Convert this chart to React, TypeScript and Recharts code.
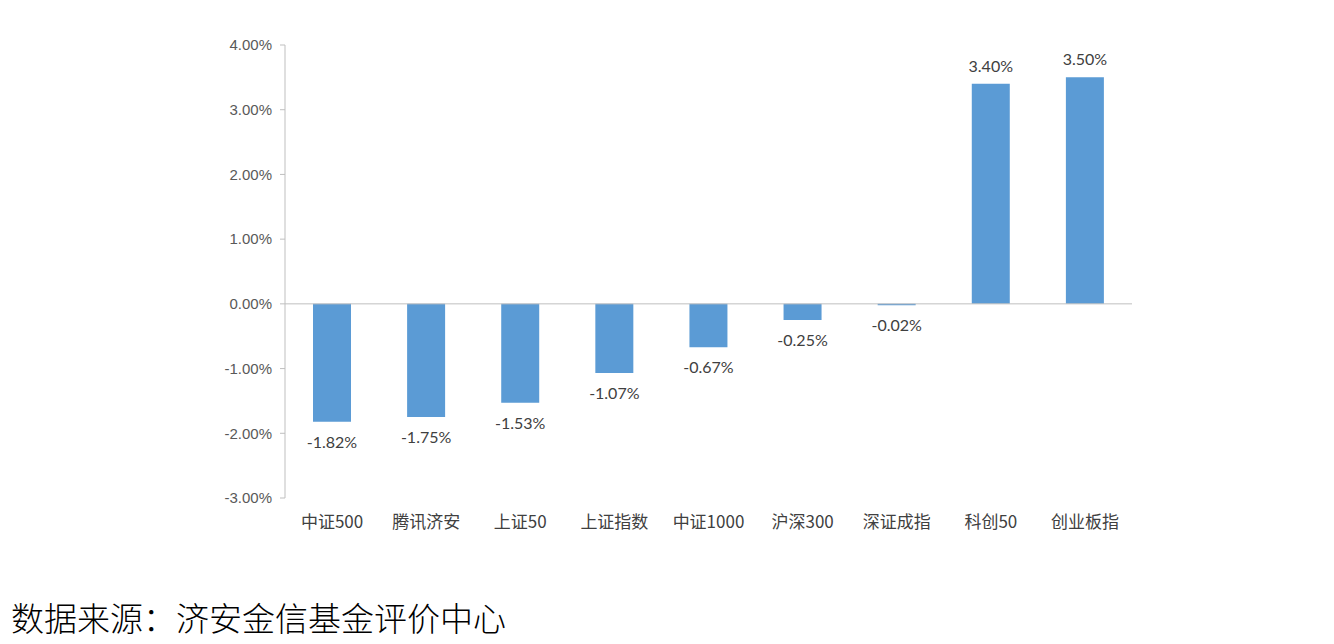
import React from 'react';
import { BarChart, Bar, XAxis, YAxis, ReferenceLine, LabelList } from 'recharts';

const categories = ['中证500', '腾讯济安', '上证50', '上证指数', '中证1000', '沪深300', '深证成指', '科创50', '创业板指'];
const returns = [-1.82, -1.75, -1.53, -1.07, -0.67, -0.25, -0.02, 3.4, 3.5];
const yTicks = [-3, -2, -1, 0, 1, 2, 3, 4];
const sourceText = '数据来源：济安金信基金评价中心';

const data = categories.map((name, i) => ({ name, value: returns[i] }));

const fmt = (v: number) => `${v.toFixed(2)}%`;

const renderLabel = (props: any) => {
  const { x, y, width, height, value } = props;
  const top = Math.min(y, y + height);
  const bottom = Math.max(y, y + height);
  const cx = x + width / 2;
  const ty = value >= 0 ? top - 12 : bottom + 26;
  return (
    <text
      x={cx}
      y={ty}
      textAnchor="middle"
      fontFamily="Lato, 'Open Sans', sans-serif"
      fontSize={16}
      fill="#404040"
    >
      {fmt(Number(value))}
    </text>
  );
};

export default function App() {
  return (
    <div style={{ position: 'absolute', left: 0, top: 0, width: 1334, height: 644, background: '#fff' }}>
      <BarChart
        width={1334}
        height={560}
        data={data}
        margin={{ top: 45, right: 202, bottom: 22, left: 0 }}
      >
        <YAxis
          width={285}
          domain={[-3, 4]}
          ticks={yTicks}
          tickFormatter={fmt}
          interval={0}
          axisLine={{ stroke: '#BFBFBF' }}
          tickLine={{ stroke: '#BFBFBF' }}
          tickSize={5}
          tickMargin={8}
          tick={{ fill: '#595959', fontSize: 15, fontFamily: "'Liberation Sans', Arial, sans-serif" }}
        />
        <XAxis
          dataKey="name"
          height={40}
          axisLine={false}
          tickLine={false}
          tickMargin={12}
          interval={0}
          tick={{ fill: '#404040', fontSize: 17, fontFamily: "'Noto Sans CJK SC', sans-serif" }}
        />
        <ReferenceLine y={0} stroke="#BFBFBF" strokeWidth={1} />
        <Bar dataKey="value" fill="#5B9BD5" barSize={38} isAnimationActive={false}>
          <LabelList dataKey="value" content={renderLabel} />
        </Bar>
      </BarChart>
      <div
        style={{
          position: 'absolute',
          left: 11,
          top: 601,
          fontSize: 33,
          lineHeight: '33px',
          fontFamily: "'Noto Sans CJK SC', sans-serif",
          fontWeight: 300,
          color: '#000',
          whiteSpace: 'nowrap',
        }}
      >
        {sourceText}
      </div>
    </div>
  );
}
